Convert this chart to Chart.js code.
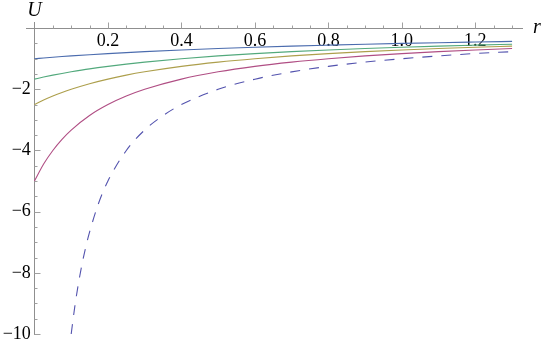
<!DOCTYPE html>
<html lang="en">
<head>
    <meta charset="UTF-8">
    <title>U(r)</title>
    <style>
        html, body { margin: 0; padding: 0; background: #fff; }
        #wrap { width: 542px; height: 343px; }
    </style>
</head>
<body>
<div id="wrap">
    <canvas id="myChart" width="542" height="343"></canvas>
</div>

<script src="https://cdn.jsdelivr.net/npm/chart.js"></script>

<script>
    // r values shared by the four solid curves
    const rSolid = [0, 0.025, 0.05, 0.075, 0.1, 0.15, 0.2, 0.25, 0.3, 0.4, 0.5, 0.6, 0.7, 0.8, 0.9, 1.0, 1.1, 1.2, 1.3];
    const uBlue    = [-1.0, -0.976, -0.952, -0.930, -0.909, -0.870, -0.833, -0.800, -0.769, -0.714, -0.667, -0.625, -0.588, -0.556, -0.526, -0.500, -0.476, -0.455, -0.435];
    const uGreen   = [-1.667, -1.600, -1.538, -1.481, -1.429, -1.333, -1.250, -1.176, -1.111, -1.000, -0.909, -0.833, -0.769, -0.714, -0.667, -0.625, -0.588, -0.556, -0.526];
    const uOlive   = [-2.5, -2.353, -2.222, -2.105, -2.0, -1.818, -1.667, -1.538, -1.429, -1.250, -1.111, -1.000, -0.909, -0.833, -0.769, -0.714, -0.667, -0.625, -0.588];
    const uMagenta = [-5.0, -4.444, -4.0, -3.636, -3.333, -2.857, -2.5, -2.222, -2.0, -1.667, -1.429, -1.250, -1.111, -1.000, -0.909, -0.833, -0.769, -0.714, -0.667];

    // dashed curve
    const rDashed = [0.1, 0.11, 0.12, 0.13, 0.14, 0.15, 0.175, 0.2, 0.25, 0.3, 0.35, 0.4, 0.5, 0.6, 0.7, 0.8, 0.9, 1.0, 1.1, 1.2, 1.3];
    const uDashed = [-10, -9.09, -8.33, -7.69, -7.14, -6.67, -5.71, -5.0, -4.0, -3.33, -2.86, -2.5, -2.0, -1.67, -1.43, -1.25, -1.11, -1.0, -0.91, -0.83, -0.77];

    // tick labels
    const xTickLabels = [0.2, 0.4, 0.6, 0.8, 1.0, 1.2];
    const yTickLabels = [-10, -8, -6, -4, -2];

    const AXIS_COLOR = '#8f8f8f';
    const SERIF = "'Liberation Serif', 'Times New Roman', serif";
    const TICK_FONT = {family: SERIF, size: 18};

    function pts(xs, ys) {
        return xs.map((v, i) => ({x: v, y: ys[i]}));
    }

    function curve(xs, ys, color, dash) {
        return {
            data: pts(xs, ys),
            borderColor: color,
            borderWidth: 1.1,
            borderDash: dash || [],
            pointRadius: 0,
            fill: false,
            cubicInterpolationMode: 'monotone'
        };
    }

    // Mathematica style tick marks (inside) + axis names
    const axisMarks = {
        id: 'axisMarks',
        afterDraw(chart) {
            const {ctx, scales: {x, y}} = chart;
            const x0 = Math.round(x.getPixelForValue(0)) + 0.5;
            const y0 = Math.round(y.getPixelForValue(0)) + 0.5;
            ctx.save();
            ctx.strokeStyle = '#a0a0a0';
            ctx.lineWidth = 1;
            ctx.beginPath();
            for (let i = 1; i <= 26; i++) {
                const px = Math.round(x.getPixelForValue(i * 0.05)) + 0.5;
                const len = (i % 4 === 0) ? 6 : 3;
                ctx.moveTo(px, y0);
                ctx.lineTo(px, y0 - len);
            }
            for (let i = 1; i <= 20; i++) {
                const py = Math.round(y.getPixelForValue(-i * 0.5)) + 0.5;
                const len = (i % 4 === 0) ? 6 : 3;
                ctx.moveTo(x0, py);
                ctx.lineTo(x0 + len, py);
            }
            ctx.stroke();

            ctx.fillStyle = '#000';
            ctx.font = 'italic 20px ' + SERIF;
            ctx.textAlign = 'center';
            ctx.textBaseline = 'alphabetic';
            ctx.fillText('U', x0, 16);
            ctx.fillText('r', 537, 33);
            ctx.restore();
        }
    };

    const ctx = document.getElementById('myChart');

    new Chart(ctx, {
        type: 'line',
        data: {
            datasets: [
                curve(rDashed, uDashed, '#5353ae', [10, 9]),
                curve(rSolid, uMagenta, '#b04e84'),
                curve(rSolid, uOlive, '#ad9f4c'),
                curve(rSolid, uGreen, '#52a97c'),
                curve(rSolid, uBlue, '#4b6cae')
            ]
        },
        options: {
            responsive: false,
            animation: false,
            devicePixelRatio: 1,
            layout: {padding: {left: 26, right: 20, top: 22, bottom: 9}},
            plugins: {
                legend: {display: false},
                tooltip: {enabled: false}
            },
            scales: {
                x: {
                    type: 'linear',
                    min: -0.023,
                    max: 1.327,
                    position: {y: 0},
                    grid: {display: false, drawTicks: false},
                    border: {display: true, color: AXIS_COLOR, width: 1},
                    ticks: {
                        padding: 2,
                        color: '#000',
                        font: TICK_FONT,
                        maxRotation: 0,
                        autoSkip: false,
                        callback: v => v.toFixed(1)
                    },
                    afterBuildTicks: s => { s.ticks = xTickLabels.map(v => ({value: v})); },
                    afterFit: s => { s.height = 0; s.paddingLeft = 0; s.paddingRight = 0; }
                },
                y: {
                    type: 'linear',
                    min: -10,
                    max: 0.2,
                    position: {x: 0},
                    grid: {display: false, drawTicks: false},
                    border: {display: true, color: AXIS_COLOR, width: 1},
                    ticks: {
                        color: '#000',
                        font: TICK_FONT,
                        autoSkip: false,
                        // label sits right on the axis for this position, keep a small gap
                        callback: v => '\u2212' + Math.abs(v) + '\u2009'
                    },
                    afterBuildTicks: s => { s.ticks = yTickLabels.map(v => ({value: v})); },
                    afterFit: s => { s.width = 0; s.paddingTop = 0; s.paddingBottom = 0; }
                }
            }
        },
        plugins: [axisMarks]
    });
</script>
</body>
</html>
